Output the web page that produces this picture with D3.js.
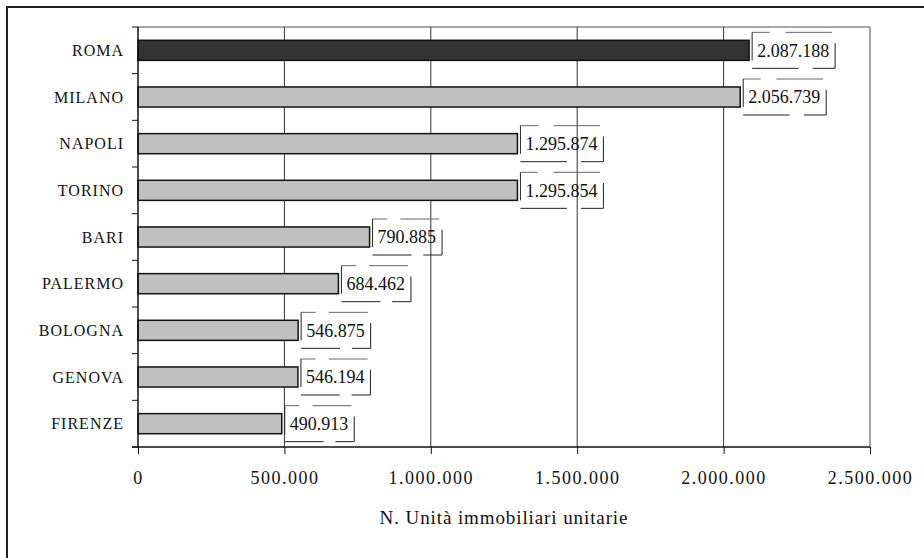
<!DOCTYPE html>
<html>
<head>
<meta charset="utf-8">
<script src="https://cdn.jsdelivr.net/npm/d3@7"></script>
<style>
  body { margin: 0; background: #fff; }
  text { font-family: "Liberation Serif", "Times New Roman", serif; fill: #111; }
</style>
</head>
<body>
<svg id="canvas" width="924" height="558"></svg>
<script>
// data
var cities = ['ROMA', 'MILANO', 'NAPOLI', 'TORINO', 'BARI', 'PALERMO', 'BOLOGNA', 'GENOVA', 'FIRENZE'];
var units = [2087188, 2056739, 1295874, 1295854, 790885, 684462, 546875, 546194, 490913];
var highlight = ['ROMA'];
var xTicks = [0, 500000, 1000000, 1500000, 2000000, 2500000];
var xTitle = 'N. Unità immobiliari unitarie';

var fmt = function(v){ return d3.format(',')(v).replace(/,/g, '.'); };

var svg = d3.select('#canvas');

// outer frame (only top and left edges visible)
svg.append('rect').attr('x', 7).attr('y', 7).attr('width', 1000).attr('height', 1000)
  .style('fill', 'none').style('stroke', '#222').style('stroke-width', 2);

var plot = { x: 138, y: 27, width: 732, height: 420 };

var xScale = d3.scaleLinear().domain([0, 2500000]).range([plot.x, plot.x + plot.width]);
var yScale = d3.scaleBand().domain(cities).range([plot.y, plot.y + plot.height]).paddingInner(0.57).paddingOuter(0.285);
var step = yScale.step();

// ************************************************************************************************** //
// Grid + frame

var g = svg.append('g');
g.append('line').attr('x1', plot.x).attr('x2', plot.x + plot.width).attr('y1', plot.y).attr('y2', plot.y)
  .style('stroke', '#888').style('stroke-width', 1.5);
g.append('line').attr('x1', xScale(2500000)).attr('x2', xScale(2500000)).attr('y1', plot.y).attr('y2', plot.y + plot.height)
  .style('stroke', '#888').style('stroke-width', 1.5);
g.selectAll('.grid').data(xTicks.slice(1, -1)).enter().append('line')
  .attr('x1', (d) => xScale(d)).attr('x2', (d) => xScale(d))
  .attr('y1', plot.y).attr('y2', plot.y + plot.height)
  .style('stroke', '#333').style('stroke-width', 1);

// ************************************************************************************************** //
// Bars

g.selectAll('.bar').data(cities).enter().append('rect')
  .attr('x', xScale(0))
  .attr('y', (d) => yScale(d))
  .attr('width', (d, i) => xScale(units[i]) - xScale(0))
  .attr('height', yScale.bandwidth())
  .style('fill', (d) => highlight.indexOf(d) >= 0 ? '#333333' : '#c0c0c0')
  .style('stroke', '#111').style('stroke-width', 1.5);

// ************************************************************************************************** //
// Axes

// left axis with ticks between categories
g.append('line').attr('x1', plot.x).attr('x2', plot.x).attr('y1', plot.y).attr('y2', plot.y + plot.height)
  .style('stroke', '#111').style('stroke-width', 1.5);
g.selectAll('.ytick').data(d3.range(cities.length + 1)).enter().append('line')
  .attr('x1', plot.x - 6).attr('x2', plot.x)
  .attr('y1', (d) => plot.y + d * step).attr('y2', (d) => plot.y + d * step)
  .style('stroke', '#111').style('stroke-width', 1);

g.selectAll('.ylabel').data(cities).enter().append('text')
  .attr('x', plot.x - 14)
  .attr('y', (d) => yScale(d) + yScale.bandwidth() / 2)
  .attr('dy', '0.35em')
  .attr('text-anchor', 'end')
  .style('font-size', '16px').style('letter-spacing', '1px')
  .text((d) => d);

// bottom axis
var xAxis = g.append('g').attr('transform', 'translate(0,' + (plot.y + plot.height) + ')')
  .call(d3.axisBottom(xScale).tickValues(xTicks).tickSize(7).tickPadding(17).tickFormat(fmt));
xAxis.select('.domain').attr('d', 'M' + (plot.x - 6) + ',0H' + (plot.x + plot.width)).style('stroke', '#111').style('stroke-width', 1.5);
xAxis.selectAll('.tick line').style('stroke', '#111');
xAxis.selectAll('.tick text').style('font-family', '"Liberation Serif", serif').style('font-size', '18px')
  .style('letter-spacing', '1.5px').style('fill', '#111');

svg.append('text').attr('x', xScale(1250000)).attr('y', 524)
  .attr('text-anchor', 'middle')
  .style('font-size', '19px').style('letter-spacing', '0.9px')
  .text(xTitle);

// ************************************************************************************************** //
// Value labels with broken box outline

cities.forEach(function(c, i){
  var cy = yScale(c) + yScale.bandwidth() / 2;
  var bx = xScale(units[i]) + 3;
  var t = svg.append('text').attr('x', bx + 5).attr('y', cy).attr('dy', '0.35em')
    .style('font-size', '18px').text(fmt(units[i]));
  var w = t.node().getComputedTextLength() + 11;
  var h = 36, by = cy - h / 2;
  var segs = [
    [[0, 0], [0.21, 0]], [[0.40, 0], [0.96, 0]],
    [[0, 0], [0, 0.78]],
    [[1, 0.30], [1, 1]],
    [[0, 1], [0.56, 1]], [[0.73, 1], [1, 1]]
  ];
  segs.forEach(function(s){
    svg.append('line')
      .attr('x1', bx + s[0][0] * w).attr('y1', by + s[0][1] * h)
      .attr('x2', bx + s[1][0] * w).attr('y2', by + s[1][1] * h)
      .style('stroke', s[0][1] == 0 && s[1][1] == 0 ? '#666' : '#222').style('stroke-width', 1);
  });
});
</script>
</body>
</html>
